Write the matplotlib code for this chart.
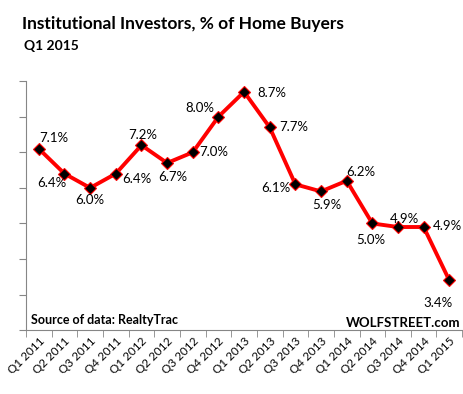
import matplotlib
matplotlib.use("Agg")
import matplotlib.pyplot as plt
import numpy as np

# data
quarters = ["Q1 2011", "Q2 2011", "Q3 2011", "Q4 2011", "Q1 2012", "Q2 2012",
            "Q3 2012", "Q4 2012", "Q1 2013", "Q2 2013", "Q3 2013", "Q4 2013",
            "Q1 2014", "Q2 2014", "Q3 2014", "Q4 2014", "Q1 2015"]
share = [7.1, 6.4, 6.0, 6.4, 7.2, 6.7, 7.0, 8.0, 8.7, 7.7, 6.1, 5.9,
         6.2, 5.0, 4.9, 4.9, 3.4]
# label offsets (points) for each data label
label_dx = [11, -9, 0, 15, 1, 4, 15, -13, 20, 17, -14, 4, 10, -1, 5, 17, -8]
label_dy = [8, -7, -9, -4, 7, -10, 0, 6, -1, 0, -3, -10, 6, -12, 6, 1, -16]

plt.rcParams['font.family'] = ['Lato', 'DejaVu Sans']

fig = plt.figure(figsize=(4.64, 3.94), dpi=100)
ax = fig.add_axes([0.056, 0.162, 0.94, 0.632])

x = np.arange(len(quarters))
ax.plot(x, share, color='#ff0000', lw=2.8, marker='D', ms=6,
        mfc='black', mec='#ff0000', mew=0.8, zorder=3)

for xi, v, dx, dy in zip(x, share, label_dx, label_dy):
    ax.annotate(f"{v:.1f}%", (xi, v), xytext=(dx, dy), textcoords='offset points',
                ha='center', va='center', fontsize=9.5, color='black')

ax.set_xlim(-0.5, len(quarters) - 0.5)
ax.set_ylim(2, 9)
ax.set_yticks(np.arange(2, 10, 1))
ax.set_yticklabels([])
ax.set_xticks(x)
ax.set_xticklabels(quarters, rotation=45, ha='right', rotation_mode='anchor', fontsize=8.5)
ax.set_xticks(np.arange(-0.5, len(quarters), 1), minor=True)
ax.tick_params(axis='x', which='major', length=0, pad=4)
ax.tick_params(axis='x', which='minor', length=5, color='#868686')
ax.tick_params(axis='y', length=5, color='#868686')

for s in ['top', 'right']:
    ax.spines[s].set_visible(False)
for s in ['left', 'bottom']:
    ax.spines[s].set_color('#868686')

ax.text(0.012, 0.04, "Source of data: RealtyTrac", transform=ax.transAxes,
        fontsize=9, fontweight='bold', ha='left', va='center')
ax.text(0.995, 0.028, "WOLFSTREET.com", transform=ax.transAxes,
        fontsize=9.5, fontweight='bold', ha='right', va='center')

fig.text(0.047, 0.94, "Institutional Investors, % of Home Buyers",
         fontsize=12.5, fontweight='bold', ha='left', va='center')
fig.text(0.052, 0.882, "Q1 2015", fontsize=10, fontweight='bold', ha='left', va='center')

fig.savefig("out.png", dpi=100)
